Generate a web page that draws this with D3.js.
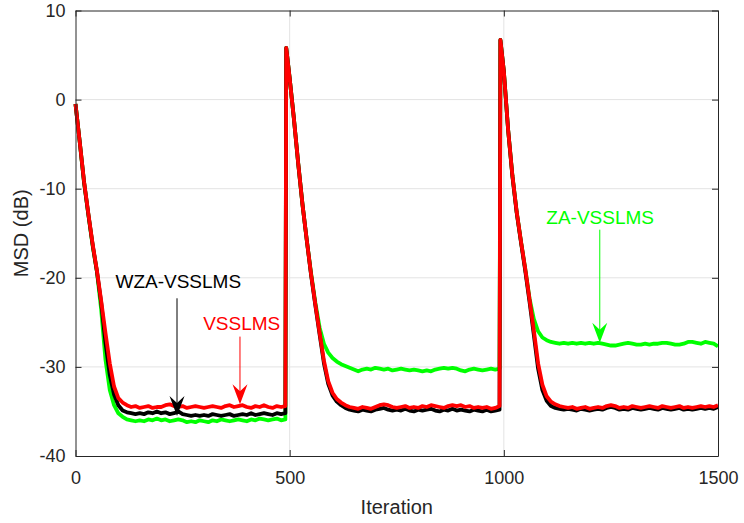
<!DOCTYPE html>
<html>
<head>
<meta charset="utf-8">
<script src="https://cdn.jsdelivr.net/npm/d3@7"></script>
<style>
  body { margin: 0; background: #fff; }
  svg { display: block; font-family: Arial, "Liberation Sans", sans-serif; }
</style>
</head>
<body>
<div id="chart"></div>
<script>
// iteration index for every sample
const iters = [
  0,10,20,30,40,50,60,70,80,90,100,110,120,130,140,150,160,170,180,190,
  200,210,220,230,240,250,260,270,280,290,300,310,320,330,340,350,360,370,380,390,
  400,410,420,430,440,450,460,470,480,490,
  492,
  500,510,520,530,540,550,560,570,580,590,600,610,620,630,640,650,660,670,680,690,
  700,710,720,730,740,750,760,770,780,790,800,810,820,830,840,850,860,870,880,890,
  900,910,920,930,940,950,960,970,980,990,
  992,
  1000,1010,1020,1030,1040,1050,1060,1070,1080,1090,1100,1110,1120,1130,1140,1150,1160,1170,1180,1190,
  1200,1210,1220,1230,1240,1250,1260,1270,1280,1290,1300,1310,1320,1330,1340,1350,1360,1370,1380,1390,
  1400,1410,1420,1430,1440,1450,1460,1470,1480,1490,1500
];

// MSD (dB)
const zaVsslms = [
  -0.5,-4.8,-9.3,-12.9,-16.4,-19.3,-23.6,-29.2,-32.6,-34.3,-35.2,-35.6,-35.9,-36.0,-36.1,-36.0,-36.1,-35.9,-36.0,-35.8,
  -36.0,-35.9,-36.1,-36.0,-35.9,-36.0,-36.2,-36.1,-36.2,-36.0,-36.1,-36.2,-36.0,-36.1,-35.9,-36.0,-36.1,-36.0,-35.9,-36.0,
  -36.1,-35.9,-36.0,-35.8,-35.9,-36.0,-35.9,-35.8,-36.0,-35.9,
  5.8,
  2.4,-2.2,-7.2,-11.8,-15.8,-19.5,-22.8,-25.6,-27.4,-28.4,-29.0,-29.4,-29.7,-29.9,-30.1,-30.3,-30.5,-30.3,-30.2,-30.3,
  -30.1,-30.2,-30.3,-30.2,-30.4,-30.3,-30.2,-30.3,-30.4,-30.3,-30.4,-30.5,-30.4,-30.5,-30.3,-30.2,-30.1,-30.2,-30.1,-30.2,
  -30.4,-30.5,-30.3,-30.2,-30.3,-30.4,-30.3,-30.2,-30.3,-30.2,
  6.7,
  3.2,-3.4,-8.5,-12.6,-15.9,-19.0,-22.3,-24.6,-26.0,-26.7,-27.0,-27.2,-27.3,-27.4,-27.3,-27.4,-27.3,-27.4,-27.3,-27.4,
  -27.3,-27.4,-27.3,-27.4,-27.5,-27.6,-27.6,-27.5,-27.4,-27.3,-27.4,-27.5,-27.5,-27.4,-27.5,-27.4,-27.4,-27.3,-27.3,-27.4,
  -27.5,-27.5,-27.4,-27.2,-27.2,-27.3,-27.4,-27.2,-27.3,-27.4,-27.7
];

const wzaVsslms = [
  -0.5,-4.8,-9.3,-12.9,-16.3,-19.3,-22.8,-27.3,-30.9,-33.1,-34.3,-34.9,-35.1,-35.2,-35.3,-35.2,-35.3,-35.1,-35.2,-35.0,
  -35.2,-35.1,-35.3,-35.2,-35.0,-35.3,-35.4,-35.5,-35.4,-35.5,-35.4,-35.5,-35.3,-35.4,-35.5,-35.4,-35.3,-35.5,-35.4,-35.3,
  -35.4,-35.2,-35.4,-35.3,-35.2,-35.3,-35.4,-35.2,-35.3,-35.2,
  5.8,
  2.4,-2.2,-7.2,-11.8,-15.8,-19.7,-23.1,-26.4,-29.6,-31.9,-33.2,-33.9,-34.3,-34.6,-34.8,-34.9,-35.0,-34.8,-34.9,-35.0,
  -34.8,-34.7,-34.6,-34.8,-34.9,-34.8,-34.9,-34.7,-34.9,-35.0,-34.8,-34.9,-34.8,-34.7,-34.9,-35.0,-34.8,-34.9,-34.7,-34.9,
  -34.8,-34.9,-35.0,-34.8,-34.9,-35.0,-34.8,-35.0,-34.9,-34.8,
  6.7,
  3.2,-3.4,-8.6,-12.7,-16.0,-19.2,-22.7,-26.4,-30.2,-32.6,-33.8,-34.4,-34.6,-34.7,-34.8,-34.7,-34.8,-34.9,-34.7,-34.8,
  -34.9,-34.8,-34.7,-34.8,-34.6,-34.5,-34.6,-34.8,-34.7,-34.8,-34.6,-34.7,-34.8,-34.7,-34.6,-34.7,-34.8,-34.6,-34.7,-34.8,
  -34.7,-34.6,-34.8,-34.7,-34.8,-34.7,-34.6,-34.7,-34.6,-34.7,-34.5
];

const vsslms = [
  -0.5,-4.8,-9.2,-12.8,-16.2,-19.2,-22.6,-26.2,-29.6,-32.2,-33.5,-34.0,-34.3,-34.5,-34.4,-34.6,-34.5,-34.4,-34.6,-34.5,
  -34.5,-34.3,-34.2,-34.4,-34.5,-34.4,-34.6,-34.5,-34.4,-34.5,-34.6,-34.5,-34.4,-34.5,-34.6,-34.4,-34.3,-34.5,-34.4,-34.3,
  -34.5,-34.6,-34.4,-34.5,-34.3,-34.5,-34.6,-34.4,-34.5,-34.4,
  5.8,
  2.4,-2.2,-7.2,-11.8,-15.8,-19.6,-23.0,-26.2,-29.3,-31.6,-32.9,-33.6,-34.0,-34.3,-34.5,-34.6,-34.7,-34.5,-34.6,-34.7,
  -34.5,-34.3,-34.2,-34.3,-34.5,-34.6,-34.5,-34.4,-34.6,-34.5,-34.6,-34.4,-34.5,-34.3,-34.4,-34.5,-34.6,-34.4,-34.3,-34.4,
  -34.3,-34.5,-34.4,-34.6,-34.5,-34.6,-34.5,-34.7,-34.6,-34.4,
  6.7,
  3.2,-3.4,-8.5,-12.6,-15.9,-19.0,-22.4,-25.9,-29.6,-32.0,-33.3,-33.9,-34.2,-34.4,-34.5,-34.6,-34.5,-34.7,-34.6,-34.5,
  -34.7,-34.6,-34.5,-34.6,-34.4,-34.3,-34.4,-34.6,-34.5,-34.6,-34.4,-34.5,-34.6,-34.5,-34.4,-34.5,-34.6,-34.4,-34.5,-34.6,
  -34.5,-34.4,-34.6,-34.5,-34.6,-34.5,-34.4,-34.5,-34.4,-34.5,-34.3
];

const xTicks = [0, 500, 1000, 1500];
const yTicks = [-40, -30, -20, -10, 0, 10];

// drawn in this order: green under black under red
const series = [
  { name: 'ZA-VSSLMS', values: zaVsslms, color: '#00ff00' },
  { name: 'WZA-VSSLMS', values: wzaVsslms, color: '#000000' },
  { name: 'VSSLMS', values: vsslms, color: '#ff0000' }
];

const W = 744, H = 523;
const margin = { top: 10.5, right: 26, bottom: 67, left: 75.5 };
const width = W - margin.left - margin.right;
const height = H - margin.top - margin.bottom;

const x = d3.scaleLinear().domain([0, 1500]).range([0, width]);
const y = d3.scaleLinear().domain([-40, 10]).range([height, 0]);

const svg = d3.select('#chart').append('svg')
  .attr('width', W)
  .attr('height', H);

const g = svg.append('g')
  .attr('transform', `translate(${margin.left},${margin.top})`);

/// grid
g.append('g')
  .selectAll('line')
  .data(xTicks.slice(1, -1))
  .join('line')
  .attr('x1', d => x(d)).attr('x2', d => x(d))
  .attr('y1', 0).attr('y2', height)
  .attr('stroke', '#e3e3e3');

g.append('g')
  .selectAll('line')
  .data(yTicks.slice(1, -1))
  .join('line')
  .attr('x1', 0).attr('x2', width)
  .attr('y1', d => y(d)).attr('y2', d => y(d))
  .attr('stroke', '#e3e3e3');

/// lines
const line = d3.line()
  .x((d, i) => x(iters[i]))
  .y(d => y(d));

g.append('g')
  .selectAll('path')
  .data(series)
  .join('path')
  .attr('fill', 'none')
  .attr('stroke', d => d.color)
  .attr('stroke-width', 3.8)
  .attr('stroke-linejoin', 'round')
  .attr('d', d => line(d.values));

/// axes (MATLAB box, ticks inside)
const axisColor = '#262626';
const plain = d => String(d);
function styleAxis(sel) {
  sel.select('.domain').attr('stroke', axisColor);
  sel.selectAll('.tick line').attr('stroke', axisColor);
  sel.selectAll('.tick text').attr('fill', axisColor).style('font-size', '18px');
}

g.append('g')
  .attr('transform', `translate(0,${height})`)
  .call(d3.axisBottom(x).tickValues(xTicks).tickFormat(plain).tickSize(-6).tickSizeOuter(0).tickPadding(15))
  .call(styleAxis);

g.append('g')
  .call(d3.axisLeft(y).tickValues(yTicks).tickFormat(plain).tickSize(-6).tickSizeOuter(0).tickPadding(10))
  .call(styleAxis);

g.append('g')
  .call(d3.axisTop(x).tickValues(xTicks).tickSize(-6).tickSizeOuter(0).tickFormat(''))
  .call(styleAxis);

g.append('g')
  .attr('transform', `translate(${width},0)`)
  .call(d3.axisRight(y).tickValues(yTicks).tickSize(-6).tickSizeOuter(0).tickFormat(''))
  .call(styleAxis);

/// axis titles
svg.append('text')
  .attr('x', margin.left + width / 2)
  .attr('y', 514)
  .attr('text-anchor', 'middle')
  .attr('fill', axisColor)
  .style('font-size', '20px')
  .text('Iteration');

svg.append('text')
  .attr('transform', `translate(28,${margin.top + height / 2}) rotate(-90)`)
  .attr('text-anchor', 'middle')
  .attr('fill', axisColor)
  .style('font-size', '20px')
  .text('MSD (dB)');

/// annotations: label, text anchor, arrow start/end in data units
const notes = [
  { text: 'WZA-VSSLMS', color: '#000000', tx: 240, ty: -21.2, ax: 237, ay0: -22.3, ay1: -35.5 },
  { text: 'VSSLMS', color: '#ff0000', tx: 388, ty: -25.9, ax: 384, ay0: -26.6, ay1: -34.2 },
  { text: 'ZA-VSSLMS', color: '#00ff00', tx: 1225, ty: -14.0, ax: 1224, ay0: -14.6, ay1: -27.3 }
];

const note = g.append('g')
  .selectAll('g')
  .data(notes)
  .join('g');

note.append('text')
  .attr('x', d => x(d.tx))
  .attr('y', d => y(d.ty))
  .attr('text-anchor', 'middle')
  .attr('fill', d => d.color)
  .style('font-size', '19px')
  .text(d => d.text);

note.append('line')
  .attr('x1', d => x(d.ax)).attr('x2', d => x(d.ax))
  .attr('y1', d => y(d.ay0)).attr('y2', d => y(d.ay1) - 12)
  .attr('stroke', d => d.color)
  .attr('stroke-width', 1);

note.append('path')
  .attr('transform', d => `translate(${x(d.ax)},${y(d.ay1)})`)
  .attr('d', 'M0,0 L-7.5,-20 L0,-13 L7.5,-20 Z')
  .attr('fill', d => d.color);
</script>
</body>
</html>
